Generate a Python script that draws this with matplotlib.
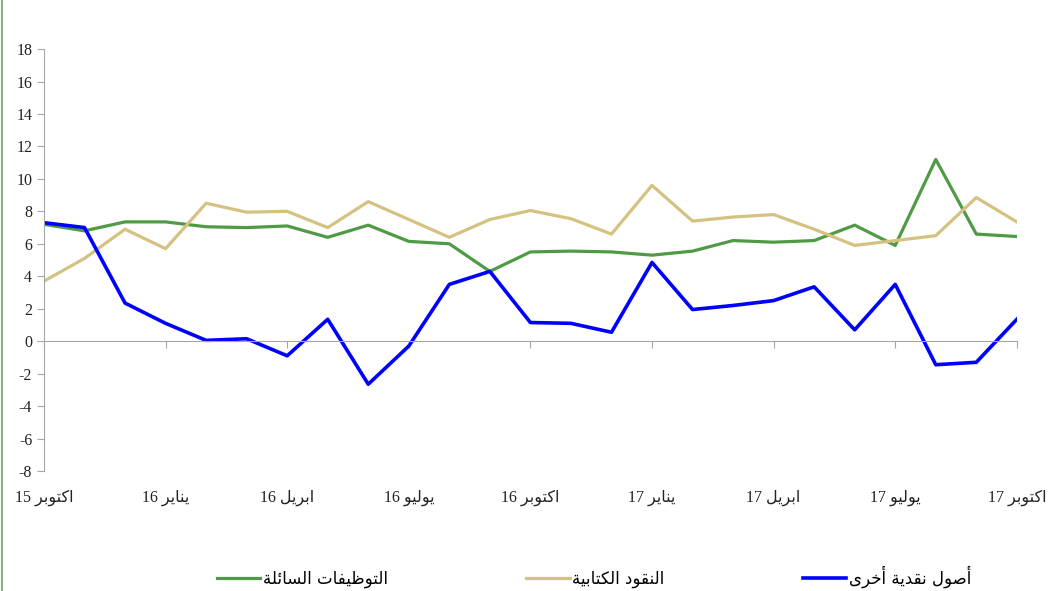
import numpy as np
import matplotlib
matplotlib.use("Agg")
import matplotlib.pyplot as plt
from matplotlib.lines import Line2D

plt.rcParams["axes.unicode_minus"] = False

# monthly data, Oct 15 .. Oct 17
liquid_investments = [7.2, 6.8, 7.35, 7.35, 7.05, 7.0, 7.1, 6.4, 7.15, 6.15, 6.0, 4.3,
                      5.5, 5.55, 5.5, 5.3, 5.55, 6.2, 6.1, 6.2, 7.15, 5.9, 11.2, 6.6, 6.45]
deposit_money = [3.7, 5.1, 6.9, 5.7, 8.5, 7.95, 8.0, 7.0, 8.6, 7.5, 6.4, 7.5,
                 8.05, 7.55, 6.6, 9.6, 7.4, 7.65, 7.8, 6.9, 5.9, 6.2, 6.5, 8.85, 7.35]
other_assets = [7.3, 7.0, 2.35, 1.1, 0.05, 0.15, -0.9, 1.35, -2.65, -0.3, 3.5, 4.3,
                1.15, 1.1, 0.55, 4.85, 1.95, 2.2, 2.5, 3.35, 0.7, 3.5, -1.45, -1.3, 1.35]

tick_labels = ["اكتوبر 15", "يناير 16", "ابريل 16", "يوليو 16", "اكتوبر 16",
               "يناير 17", "ابريل 17", "يوليو 17", "اكتوبر 17"]
series_names = ["التوظيفات السائلة", "النقود الكتابية", "أصول نقدية أخرى"]

# --- minimal arabic shaping (matplotlib has no bidi/shaping) ---
# letter: (isolated, final, initial, medial); None for non-joining-forward letters
FORMS = {
    "ا": (0xFE8D, 0xFE8E, None, None), "أ": (0xFE83, 0xFE84, None, None),
    "ب": (0xFE8F, 0xFE90, 0xFE91, 0xFE92), "ة": (0xFE93, 0xFE94, None, None),
    "ت": (0xFE95, 0xFE96, 0xFE97, 0xFE98), "خ": (0xFEA5, 0xFEA6, 0xFEA7, 0xFEA8),
    "د": (0xFEA9, 0xFEAA, None, None), "ر": (0xFEAD, 0xFEAE, None, None),
    "س": (0xFEB1, 0xFEB2, 0xFEB3, 0xFEB4), "ص": (0xFEB9, 0xFEBA, 0xFEBB, 0xFEBC),
    "ظ": (0xFEC5, 0xFEC6, 0xFEC7, 0xFEC8), "ف": (0xFED1, 0xFED2, 0xFED3, 0xFED4),
    "ق": (0xFED5, 0xFED6, 0xFED7, 0xFED8), "ك": (0xFED9, 0xFEDA, 0xFEDB, 0xFEDC),
    "ل": (0xFEDD, 0xFEDE, 0xFEDF, 0xFEE0), "ن": (0xFEE5, 0xFEE6, 0xFEE7, 0xFEE8),
    "و": (0xFEED, 0xFEEE, None, None), "ى": (0xFEEF, 0xFEF0, None, None),
    "ي": (0xFEF1, 0xFEF2, 0xFEF3, 0xFEF4), "ئ": (0xFE89, 0xFE8A, 0xFE8B, 0xFE8C),
}


def shape(text):
    out = []
    for i, ch in enumerate(text):
        if ch not in FORMS:
            out.append(ch)
            continue
        prev = text[i - 1] if i > 0 else ""
        nxt = text[i + 1] if i + 1 < len(text) else ""
        j_prev = prev in FORMS and FORMS[prev][2] is not None
        j_next = nxt in FORMS and FORMS[ch][2] is not None
        iso, fin, ini, med = FORMS[ch]
        if j_prev and j_next:
            out.append(chr(med))
        elif j_prev:
            out.append(chr(fin))
        elif j_next:
            out.append(chr(ini))
        else:
            out.append(chr(iso))
    vis = "".join(out)[::-1]
    # put digit runs back in reading order
    res, run = "", ""
    for ch in vis:
        if ch.isdigit():
            run += ch
        else:
            res += run[::-1] + ch
            run = ""
    return res + run[::-1]


x = np.arange(len(liquid_investments))

fig = plt.figure(figsize=(10.57, 5.91), dpi=100)
ax = fig.add_axes([0.0416, 0.203, 0.9204, 0.714])

ax.plot(x, liquid_investments, color="#4f9a44", lw=2.3, label=shape(series_names[0]))
ax.plot(x, deposit_money, color="#d5c180", lw=2.3, label=shape(series_names[1]))
ax.plot(x, other_assets, color="#0000ff", lw=2.6, label=shape(series_names[2]))

ax.set_xlim(0, 24)
ax.set_ylim(-8, 18)
ax.set_yticks(np.arange(-8, 19, 2))

for s in ["top", "right"]:
    ax.spines[s].set_visible(False)
ax.spines["left"].set_color("#a6a6a6")
ax.spines["bottom"].set_color("#a6a6a6")
ax.spines["bottom"].set_position(("data", 0))

ax.set_xticks(np.arange(0, 25, 3))
ax.set_xticklabels([shape(t) for t in tick_labels],
                   family=["Liberation Serif", "DejaVu Sans"], fontsize=11.5)
ax.tick_params(axis="x", length=5, color="#a6a6a6", pad=102, labelcolor="#222222")
ax.tick_params(axis="y", length=5, color="#a6a6a6", labelsize=11.5, labelcolor="#222222")
for lab in ax.get_yticklabels():
    lab.set_family("Liberation Serif")

leg = fig.legend(loc="lower center", bbox_to_anchor=(0.562, -0.02), ncol=3,
                 frameon=False, handlelength=2.6, columnspacing=8.3, handletextpad=0.15,
                 prop={"family": "DejaVu Sans", "size": 12})

# left border of the chart area
fig.add_artist(Line2D([0.0015, 0.0015], [0, 1], color="#6aa463", lw=1.2,
                      transform=fig.transFigure))

fig.savefig("out.png", dpi=100)
